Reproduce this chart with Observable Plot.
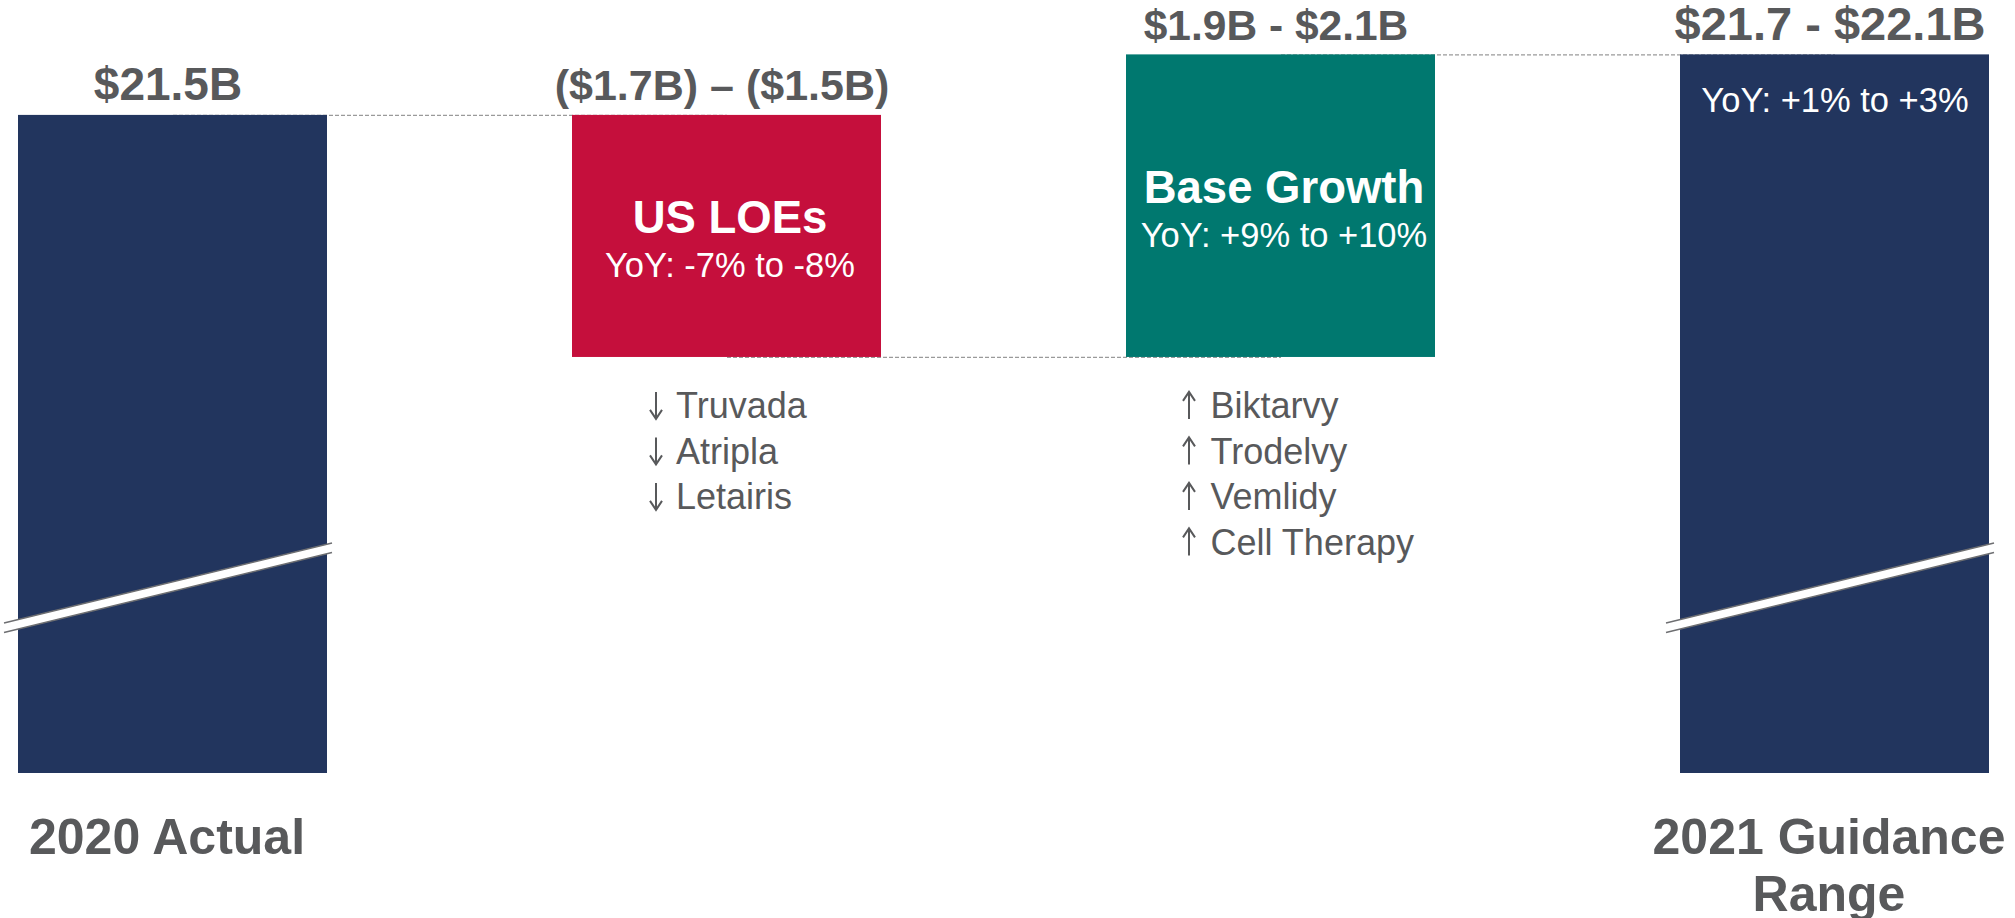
<!DOCTYPE html>
<html><head><meta charset="utf-8">
<script src="https://cdn.jsdelivr.net/npm/d3@7"></script>
<script src="https://cdn.jsdelivr.net/npm/@observablehq/plot@0.6"></script>
<style>html,body{margin:0;padding:0;background:#fff;overflow:hidden}</style>
</head><body><div id="chart"></div>
<script>
// ---- data ----
const categories = ["2020 Actual", "US LOEs", "Base Growth", "2021 Guidance Range"];
const kinds = ["total", "decrease", "increase", "total"];
const values = [21.5, -1.6, 2.0, 21.9]; // $B (range midpoints for the ranges)
const valueLabels = ["$21.5B", "($1.7B) – ($1.5B)", "$1.9B - $2.1B", "$21.7 - $22.1B"];
const barTitles = ["", "US LOEs", "Base Growth", ""];
const yoyLabels = ["", "YoY: -7% to -8%", "YoY: +9% to +10%", "YoY: +1% to +3%"];
const axisLabels = ["2020 Actual", "", "", "2021 Guidance\nRange"];
const lossDrivers = ["Truvada", "Atripla", "Letairis"];
const growthDrivers = ["Biktarvy", "Trodelvy", "Vemlidy", "Cell Therapy"];
const kindNames = ["total", "decrease", "increase"];
const kindColors = ["#22355E", "#C50F3C", "#00786F"];

// ---- derived waterfall table ----
let running = 0;
const rows = categories.map((c, i) => {
  let start, end;
  if (kinds[i] === "total") { start = 0; end = values[i]; }
  else { start = running; end = running + values[i]; }
  running = end;
  return {
    index: i, category: c, kind: kinds[i], start, end,
    top: Math.max(start, end), bottom: Math.min(start, end), mid: (start + end) / 2,
    valueLabel: valueLabels[i], title: barTitles[i], yoy: yoyLabels[i], axisLabel: axisLabels[i]
  };
});
const connectors = rows.slice(0, -1).map((r, i) => ({from: r.category, to: rows[i + 1].category, level: r.end}));
const lossList = [{category: categories[1], level: rows[1].bottom, names: lossDrivers.join("\n"), count: lossDrivers.length, direction: "down"}];
const growthList = [{category: categories[2], level: rows[2].bottom, names: growthDrivers.join("\n"), count: growthDrivers.length, direction: "up"}];

// ---- styling ----
const grey = "#58595B";
const W = 2015, H = 918;
const valueLabelSizes = [46, 43, 42.5, 47];
const listFont = 36, listLine = 45.5, listDy = 28.4;
const arrowDx = {down: -70.5, up: -91.5};

// axis-break marks drawn on the truncated total bars
function breakMarks(index, scales, values, dims) {
  const x = scales.x;
  const bw = x.bandwidth();
  const bottom = dims.height - dims.marginBottom;
  const g = d3.create("svg:g");
  rows.filter(r => r.kind === "total").forEach(r => {
    const x0 = x(r.category) - 14, x1 = x(r.category) + bw + 5;
    const yL = bottom - 150, yR = bottom - 230, gap = 9.5;
    g.append("polygon")
      .attr("points", [[x0, yL], [x1, yR], [x1, yR + gap], [x0, yL + gap]].map(p => p.join(",")).join(" "))
      .attr("fill", "white");
    for (const off of [0, gap]) {
      g.append("line").attr("x1", x0).attr("y1", yL + off).attr("x2", x1).attr("y2", yR + off)
        .attr("stroke", "#6D6E71").attr("stroke-width", 1.4);
    }
  });
  return g.node();
}

// ↓ / ↑ bullets in front of each driver name
function driverArrows(index, scales) {
  const {x, y} = scales;
  const bw = x.bandwidth();
  const g = d3.create("svg:g").attr("stroke", grey).attr("stroke-width", 2).attr("fill", "none");
  for (const list of [...lossList, ...growthList]) {
    const cx = x(list.category) + bw / 2 + arrowDx[list.direction];
    for (let i = 0; i < list.count; ++i) {
      const base = y(list.level) + listDy + 0.71 * listFont + i * listLine;
      const top = base - 19, bot = base + 8;
      const tip = list.direction === "down" ? bot : top;
      const back = list.direction === "down" ? bot - 9 : top + 9;
      g.append("path").attr("d", `M${cx},${top}V${bot}M${cx - 6},${back}L${cx},${tip}L${cx + 6},${back}`);
    }
  }
  return g.node();
}

const listOpts = {x: "category", y: "level", lineAnchor: "top", textAnchor: "start", text: "names", dy: listDy,
  fontSize: listFont, lineHeight: listLine / listFont, fill: grey};

const chart = Plot.plot({
  width: W, height: H,
  marginLeft: 17, marginRight: 25, marginTop: 9, marginBottom: 145,
  style: {fontFamily: "'Liberation Sans', Arial, sans-serif", background: "white", overflow: "visible"},
  x: {domain: categories, paddingInner: 0.443, paddingOuter: 0, axis: null},
  y: {domain: [17.15, 22.2], clamp: true, axis: null},
  color: {domain: kindNames, range: kindColors},
  marks: [
    Plot.link(connectors, {x1: "from", x2: "to", y1: "level", y2: "level", stroke: "#9A9A9A", strokeWidth: 1.2, strokeDasharray: "4,2"}),
    Plot.barY(rows, {x: "category", y1: "start", y2: "end", fill: "kind"}),
    breakMarks,
    Plot.text(rows, {x: "category", y: "top", text: "valueLabel", lineAnchor: "bottom", dy: -15, dx: -5,
      fontSize: d => valueLabelSizes[d.index], fontWeight: "bold", fill: grey}),
    Plot.text(rows.filter(r => r.kind !== "total"), {x: "category", y: "mid", text: "title", lineAnchor: "bottom", dy: -3, dx: 3,
      fontSize: 45.5, fontWeight: "bold", fill: "white"}),
    Plot.text(rows.filter(r => r.kind !== "total"), {x: "category", y: "mid", text: "yoy", lineAnchor: "bottom", dy: 41, dx: 3,
      fontSize: 34.5, fill: "white"}),
    Plot.text(rows.filter(r => r.kind === "total" && r.yoy), {x: "category", y: "top", text: "yoy", lineAnchor: "bottom", dy: 57,
      fontSize: 34.5, fill: "white"}),
    // driver lists under the change bars
    Plot.text(lossList, {...listOpts, dx: -51}),
    Plot.text(growthList, {...listOpts, dx: -70.5}),
    driverArrows,
    // category labels for the two totals
    Plot.text(rows.filter(r => r.axisLabel), {x: "category", frameAnchor: "bottom", text: "axisLabel", lineAnchor: "top", dy: 40, dx: -6,
      fontSize: 50, fontWeight: "bold", lineHeight: 1.14, fill: grey})
  ]
});
document.getElementById("chart").appendChild(chart);
</script>
</body></html>
